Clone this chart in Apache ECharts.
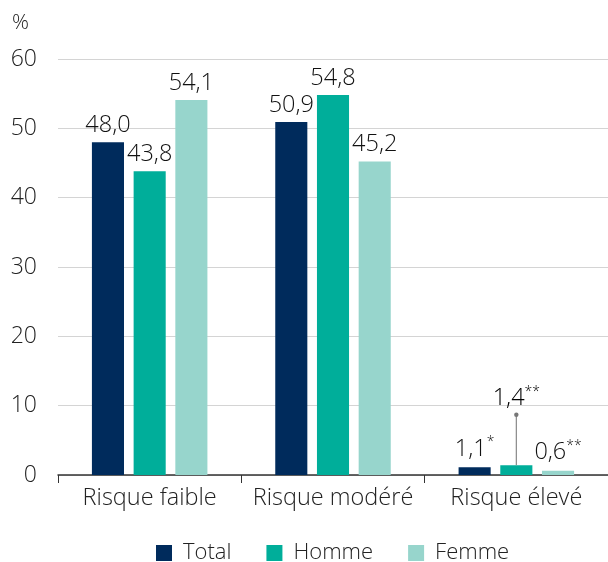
<!DOCTYPE html>
<html><head><meta charset="utf-8">
<script src="https://cdn.jsdelivr.net/npm/echarts@6/dist/echarts.min.js"></script>
<style>html,body{margin:0;padding:0;background:#fff}#c{width:608px;height:562px}</style>
</head><body><div id="c"></div>
<script>
var categories = ['Risque faible', 'Risque modéré', 'Risque élevé'];
var seriesNames = ['Total', 'Homme', 'Femme'];
var totalValues = [48.0, 50.9, 1.1];
var hommeValues = [43.8, 54.8, 1.4];
var femmeValues = [54.1, 45.2, 0.6];
var totalNotes = ['', '', '*'];
var hommeNotes = ['', '', '**'];
var femmeNotes = ['', '', '**'];
// upper confidence bound shown for Homme, Risque élevé
var errorBars = [[2, 1.4, 8.7]];
var yTicks = [0, 10, 20, 30, 40, 50, 60];

var colors = ['#002b5c', '#00ae9a', '#97d5cc'];
var FONT = '"Open Sans", sans-serif';
var W = 300;

function fmt(v) { return v.toFixed(1).replace('.', ','); }
function mk(values, notes, hideIdx) {
  return values.map(function (v, i) {
    var item = { value: v, note: notes[i] };
    if (hideIdx !== undefined && hideIdx.indexOf(i) >= 0) item.label = { show: false };
    return item;
  });
}
var labelRich = {
  v: { fontSize: 23.5, color: '#111', fontFamily: FONT, fontWeight: W },
  s: { fontSize: 14, color: '#111', fontFamily: FONT, fontWeight: W, verticalAlign: 'top', padding: [0, 0, 13, 0] }
};
function labelFmt(p) {
  var n = p.data.note;
  return '{v|' + fmt(p.value) + '}' + (n ? '{s|' + n + '}' : '');
}
function barSeries(name, values, notes, color, hide) {
  return {
    name: name, type: 'bar', data: mk(values, notes, hide),
    barWidth: '17.5%', barGap: '30%',
    itemStyle: { color: color },
    label: { show: true, position: 'top', distance: 5, formatter: labelFmt, rich: labelRich },
    z: 2
  };
}
var errIdx = errorBars.map(function (e) { return e[0]; });

var chart = echarts.init(document.getElementById('c'), null, { renderer: 'canvas' });
chart.setOption({
  animation: false,
  textStyle: { fontFamily: FONT },
  color: colors,
  grid: { left: 58, right: 0, top: 59, bottom: 87, containLabel: false },
  legend: {
    top: 537, left: 151, itemWidth: 16, itemHeight: 16, itemGap: 35,
    icon: 'rect',
    textStyle: { fontSize: 22, color: '#222', fontFamily: FONT, fontWeight: W, padding: [0, 0, 0, 6] },
    data: seriesNames
  },
  xAxis: {
    type: 'category', data: categories,
    axisLine: { lineStyle: { color: '#333', width: 1.5 } },
    axisTick: { show: true, length: 8, interval: 0, lineStyle: { color: '#333' }, alignWithLabel: false },
    axisLabel: { fontSize: 23.5, interval: 0, color: '#222', margin: 11, fontFamily: FONT, fontWeight: W }
  },
  yAxis: {
    type: 'value', min: 0, max: 60, interval: 10,
    name: '%', nameLocation: 'end', nameGap: 25,
    nameTextStyle: { fontSize: 21, color: '#222', align: 'left', padding: [0, 0, 0, -46], fontFamily: FONT, fontWeight: W },
    axisLine: { show: false }, axisTick: { show: false },
    axisLabel: { fontSize: 23, color: '#222', margin: 21, fontFamily: FONT, fontWeight: W,
      formatter: function (v) { return yTicks.indexOf(v) >= 0 ? String(v) : ''; } },
    splitLine: { lineStyle: { color: '#d4d4d4', width: 1 } }
  },
  series: [
    barSeries(seriesNames[0], totalValues, totalNotes, colors[0]),
    barSeries(seriesNames[1], hommeValues, hommeNotes, colors[1], errIdx),
    barSeries(seriesNames[2], femmeValues, femmeNotes, colors[2]),
    {
      type: 'custom', name: 'err', z: 5, silent: true,
      data: errorBars,
      renderItem: function (params, api) {
        var c = api.value(0);
        var lo = api.coord([c, api.value(1)]);
        var hi = api.coord([c, api.value(2)]);
        var v = hommeValues[c];
        var note = hommeNotes[c];
        return {
          type: 'group',
          children: [
            { type: 'line', shape: { x1: lo[0], y1: lo[1], x2: hi[0], y2: hi[1] }, style: { stroke: '#888', lineWidth: 1.2 } },
            { type: 'circle', shape: { cx: hi[0], cy: hi[1], r: 2.2 }, style: { fill: '#777' } },
            { type: 'text', x: hi[0], y: hi[1] - 3,
              style: { text: '{v|' + fmt(v) + '}{s|' + note + '}', rich: labelRich, align: 'center', verticalAlign: 'bottom' } }
          ]
        };
      }
    }
  ]
});
</script></body></html>
